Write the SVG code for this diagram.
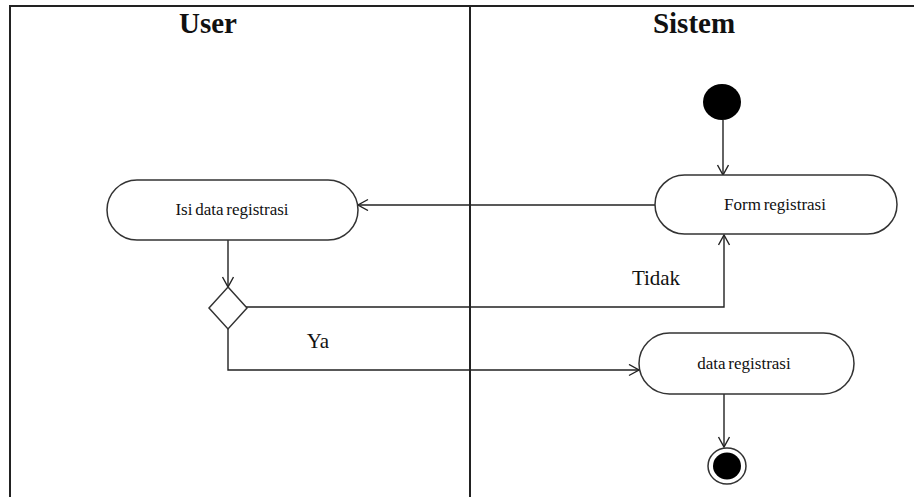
<svg xmlns="http://www.w3.org/2000/svg" width="914" height="497" viewBox="0 0 914 497">
  <defs>
    <marker id="open-arrow" markerWidth="14" markerHeight="14" refX="11" refY="6" orient="auto" markerUnits="userSpaceOnUse">
      <path d="M1,0.5 L11,6 L1,11.5" fill="none" stroke="#222" stroke-width="1.4"/>
    </marker>
  </defs>
  <style>
    .frame { fill: none; stroke: #222; stroke-width: 2; }
    .lane-title { font-family: "Liberation Serif", "Times New Roman", serif; font-weight: bold; font-size: 29px; fill: #111; text-anchor: middle; }
    .node { fill: #fff; stroke: #333; stroke-width: 1.5; }
    .label { font-family: "Liberation Serif", "Times New Roman", serif; font-size: 17px; fill: #111; text-anchor: middle; word-spacing: -1.5px; }
    .guard { font-family: "Liberation Serif", "Times New Roman", serif; font-size: 21px; fill: #111; text-anchor: middle; }
    .edge { fill: none; stroke: #222; stroke-width: 1.4; marker-end: url(#open-arrow); }
  </style>
  <rect width="914" height="497" fill="#fff"/>

  <!-- swimlane frame -->
  <g id="lanes">
    <path class="frame" d="M10,497 V6 H914"/>
    <line class="frame" x1="470" y1="6" x2="470" y2="497"/>
    <text class="lane-title" x="208" y="33">User</text>
    <text class="lane-title" x="694" y="33">Sistem</text>
  </g>

  <!-- connectors -->
  <g id="connectors">
    <path class="edge" d="M723,120 V175"/>
    <path class="edge" d="M655,205 H358"/>
    <path class="edge" d="M228,240 V287"/>
    <path class="edge" d="M246,307 H724 V235"/>
    <path class="edge" d="M228,329 V370 H639"/>
    <path class="edge" d="M724,394 V447"/>
    <text class="guard" x="656" y="285">Tidak</text>
    <text class="guard" x="318" y="348">Ya</text>
  </g>

  <g id="start">
    <ellipse cx="722" cy="102" rx="19" ry="18" fill="#000"/>
  </g>

  <g id="form-registrasi">
    <rect class="node" x="655" y="175" width="242" height="59" rx="29.5" ry="29.5"/>
    <text class="label" x="775" y="210">Form registrasi</text>
  </g>

  <g id="isi-data-registrasi">
    <rect class="node" x="107" y="180" width="251" height="60" rx="30" ry="30"/>
    <text class="label" x="232" y="215">Isi data registrasi</text>
  </g>

  <g id="decision">
    <polygon class="node" points="228,287 247,308 228,329 209,308"/>
  </g>

  <g id="data-registrasi">
    <rect class="node" x="639" y="333" width="215" height="61" rx="30.5" ry="30.5"/>
    <text class="label" x="744" y="369">data registrasi</text>
  </g>

  <g id="end">
    <ellipse cx="727" cy="466" rx="19" ry="18" fill="#fff" stroke="#333" stroke-width="1.5"/>
    <ellipse cx="727" cy="466" rx="14" ry="13.5" fill="#000"/>
  </g>
</svg>
